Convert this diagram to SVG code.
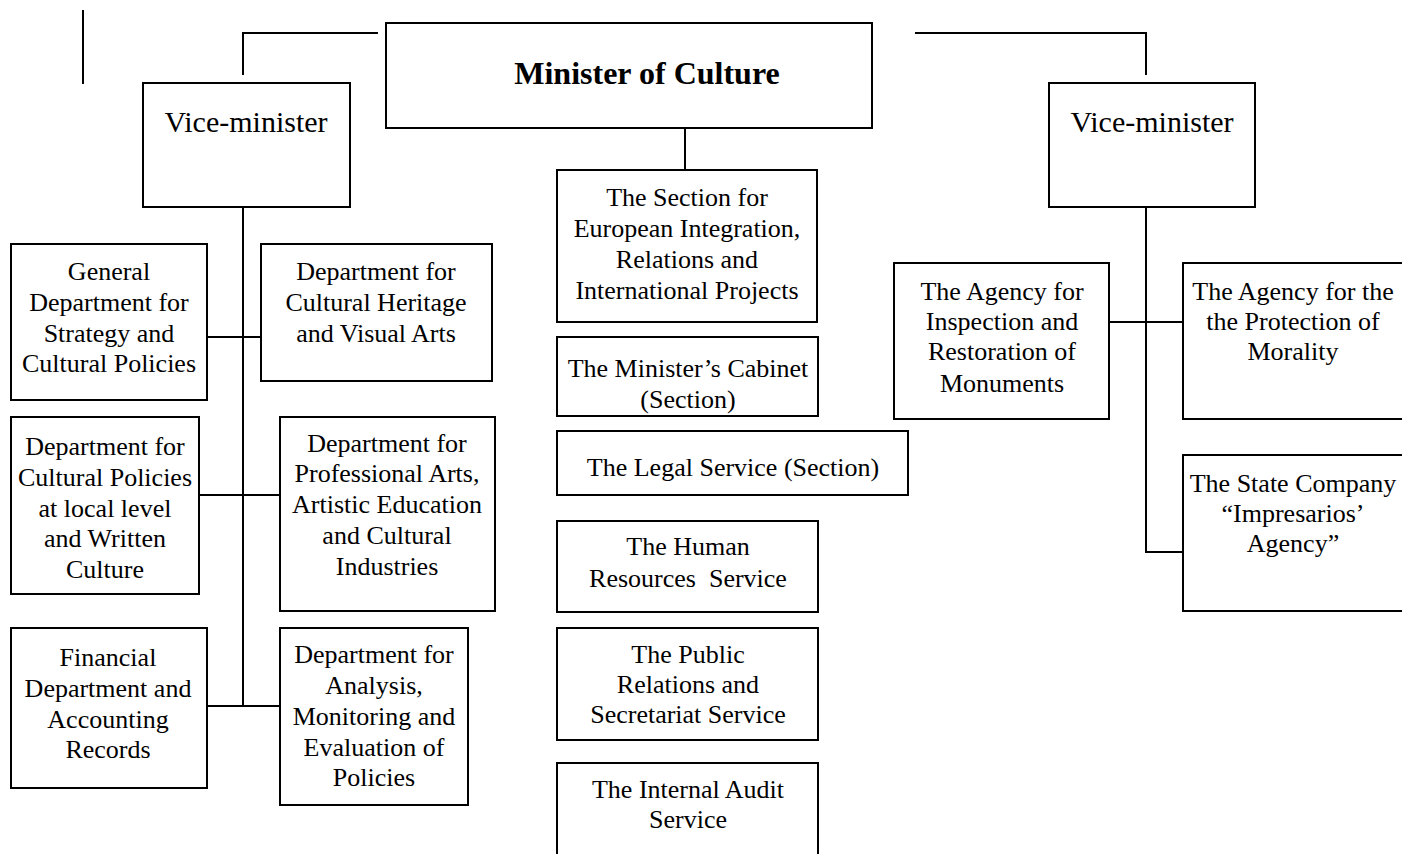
<svg xmlns="http://www.w3.org/2000/svg" width="1402" height="854" viewBox="0 0 1402 854">
<style>
  .box { fill: #fff; stroke: #000; stroke-width: 2; }
  .ln { fill: none; stroke: #000; stroke-width: 2; }
  text { font-family: "Liberation Serif", "Times New Roman", serif; font-size: 26px; fill: #000; text-anchor: middle; }
  .vm { font-size: 30px; }
  .min { font-size: 32px; font-weight: bold; }
</style>
<rect width="1402" height="854" fill="#fff"/>
<g id="connectors">
  <line class="ln" x1="83" y1="10" x2="83" y2="84"/>
  <polyline class="ln" points="378,33 243,33 243,75"/>
  <polyline class="ln" points="915,33 1146,33 1146,75"/>
  <line class="ln" x1="685" y1="128" x2="685" y2="170"/>
  <line class="ln" x1="243" y1="207" x2="243" y2="706"/>
  <line class="ln" x1="207" y1="337" x2="262" y2="337"/>
  <line class="ln" x1="200" y1="495" x2="281" y2="495"/>
  <line class="ln" x1="207" y1="706" x2="281" y2="706"/>
  <polyline class="ln" points="1146,207 1146,552 1184,552"/>
  <line class="ln" x1="1109" y1="322" x2="1184" y2="322"/>
</g>
<g id="minister">
  <rect class="box" x="386" y="23" width="486" height="105"/>
  <text class="min" x="647" y="84">Minister of Culture</text>
</g>
<g id="vice-left">
  <rect class="box" x="143" y="83" width="207" height="124"/>
  <text class="vm" x="246" y="132">Vice-minister</text>
</g>
<g id="vice-right">
  <rect class="box" x="1049" y="83" width="206" height="124"/>
  <text class="vm" x="1152" y="132">Vice-minister</text>
</g>
<g id="general-dept">
  <rect class="box" x="11" y="244" width="196" height="156"/>
  <text x="109" y="280">General</text>
  <text x="109" y="311">Department for</text>
  <text x="109" y="342">Strategy and</text>
  <text x="109" y="372">Cultural Policies</text>
</g>
<g id="heritage-dept">
  <rect class="box" x="261" y="244" width="231" height="137"/>
  <text x="376" y="280">Department for</text>
  <text x="376" y="311">Cultural Heritage</text>
  <text x="376" y="342">and Visual Arts</text>
</g>
<g id="local-dept">
  <rect class="box" x="11" y="417" width="188" height="177"/>
  <text x="105" y="455">Department for</text>
  <text x="105" y="486">Cultural Policies</text>
  <text x="105" y="517">at local level</text>
  <text x="105" y="547">and Written</text>
  <text x="105" y="578">Culture</text>
</g>
<g id="arts-dept">
  <rect class="box" x="280" y="417" width="215" height="194"/>
  <text x="387" y="452">Department for</text>
  <text x="387" y="482">Professional Arts,</text>
  <text x="387" y="513">Artistic Education</text>
  <text x="387" y="544">and Cultural</text>
  <text x="387" y="575">Industries</text>
</g>
<g id="financial-dept">
  <rect class="box" x="11" y="628" width="196" height="160"/>
  <text x="108" y="666">Financial</text>
  <text x="108" y="697">Department and</text>
  <text x="108" y="728">Accounting</text>
  <text x="108" y="758">Records</text>
</g>
<g id="analysis-dept">
  <rect class="box" x="280" y="628" width="188" height="177"/>
  <text x="374" y="663">Department for</text>
  <text x="374" y="694">Analysis,</text>
  <text x="374" y="725">Monitoring and</text>
  <text x="374" y="756">Evaluation of</text>
  <text x="374" y="786">Policies</text>
</g>
<g id="section-eu">
  <rect class="box" x="557" y="170" width="260" height="152"/>
  <text x="687" y="206">The Section for</text>
  <text x="687" y="237">European Integration,</text>
  <text x="687" y="268">Relations and</text>
  <text x="687" y="299">International Projects</text>
</g>
<g id="cabinet">
  <rect class="box" x="557" y="337" width="261" height="79"/>
  <text x="688" y="377">The Minister’s Cabinet</text>
  <text x="688" y="408">(Section)</text>
</g>
<g id="legal">
  <rect class="box" x="557" y="431" width="351" height="64"/>
  <text x="733" y="476">The Legal Service (Section)</text>
</g>
<g id="hr">
  <rect class="box" x="557" y="521" width="261" height="91"/>
  <text x="688" y="555">The Human</text>
  <text x="688" y="587" xml:space="preserve">Resources  Service</text>
</g>
<g id="pr">
  <rect class="box" x="557" y="628" width="261" height="112"/>
  <text x="688" y="663">The Public</text>
  <text x="688" y="693">Relations and</text>
  <text x="688" y="723">Secretariat Service</text>
</g>
<g id="audit">
  <rect class="box" x="557" y="763" width="261" height="100"/>
  <text x="688" y="798">The Internal Audit</text>
  <text x="688" y="828">Service</text>
</g>
<g id="agency-monuments">
  <rect class="box" x="894" y="263" width="215" height="156"/>
  <text x="1002" y="300">The Agency for</text>
  <text x="1002" y="330">Inspection and</text>
  <text x="1002" y="360">Restoration of</text>
  <text x="1002" y="392">Monuments</text>
</g>
<g id="agency-morality">
  <rect class="box" x="1183" y="263" width="230" height="156"/>
  <text x="1293" y="300">The Agency for the</text>
  <text x="1293" y="330">the Protection of</text>
  <text x="1293" y="360">Morality</text>
</g>
<g id="state-company">
  <rect class="box" x="1183" y="455" width="230" height="156"/>
  <text x="1293" y="492">The State Company</text>
  <text x="1293" y="522">“Impresarios’</text>
  <text x="1293" y="552">Agency”</text>
</g>
</svg>
